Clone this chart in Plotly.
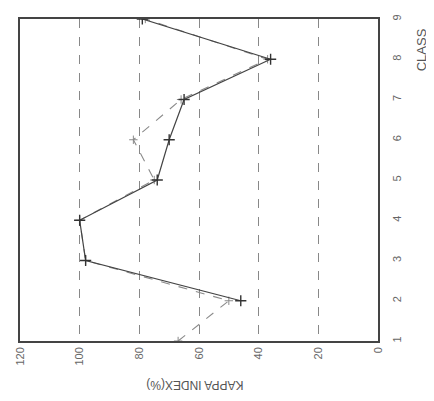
import plotly.graph_objects as go

classes = [1, 2, 3, 4, 5, 6, 7, 8, 9]
kappa_a = [None, 46, 98, 100, 74, 70, 65, 36, 79]
kappa_b = [67, 50, 98, 100, 75, 82, 66, 37, 78]
kappa_ticks = [0, 20, 40, 60, 80, 100, 120]
class_ticks = [1, 2, 3, 4, 5, 6, 7, 8, 9]

fig = go.Figure()
fig.add_trace(go.Scatter(
    x=kappa_b, y=classes, mode="lines+markers",
    line=dict(color="#8a8a8a", width=1.1, dash="dash"),
    marker=dict(symbol="cross-thin", size=6, line=dict(color="#8a8a8a", width=1)),
    connectgaps=True, showlegend=False))
fig.add_trace(go.Scatter(
    x=kappa_a, y=classes, mode="lines+markers",
    line=dict(color="#444444", width=1.2),
    marker=dict(symbol="cross-thin", size=8, line=dict(color="#333333", width=1.4)),
    connectgaps=True, showlegend=False))

fig.update_layout(
    width=426, height=393,
    margin=dict(l=9, r=56, t=6, b=60),
    paper_bgcolor="white", plot_bgcolor="white",
    font=dict(family="Liberation Sans", color="#555555", size=11),
    xaxis=dict(range=[120, 0], tickvals=kappa_ticks, ticktext=[str(v) for v in kappa_ticks],
               tickangle=-90, showgrid=True, gridcolor="#888888", griddash="dash", gridwidth=1,
               showline=True, linecolor="#444444", linewidth=1.5, mirror=True,
               ticks="", zeroline=False, tickfont=dict(size=11, color="#666666")),
    yaxis=dict(range=[1, 9], tickvals=class_ticks, side="right", tickangle=-90,
               showgrid=False, showline=True, linecolor="#444444", linewidth=1.5, mirror=True,
               ticks="", zeroline=False, ticklabelstandoff=8,
               tickfont=dict(size=11, color="#666666")),
    annotations=[
        dict(text="KAPPA INDEX(%)", x=0.488, y=-0.135, xref="paper", yref="paper",
             xanchor="center", yanchor="middle",
             textangle=180, showarrow=False, font=dict(size=12, color="#555555")),
        dict(text="CLASS", x=1.122, y=0.905, xref="paper", yref="paper",
             xanchor="center", yanchor="middle",
             textangle=-90, showarrow=False, font=dict(size=13, color="#555555")),
    ],
)
fig.write_html("out.html")
